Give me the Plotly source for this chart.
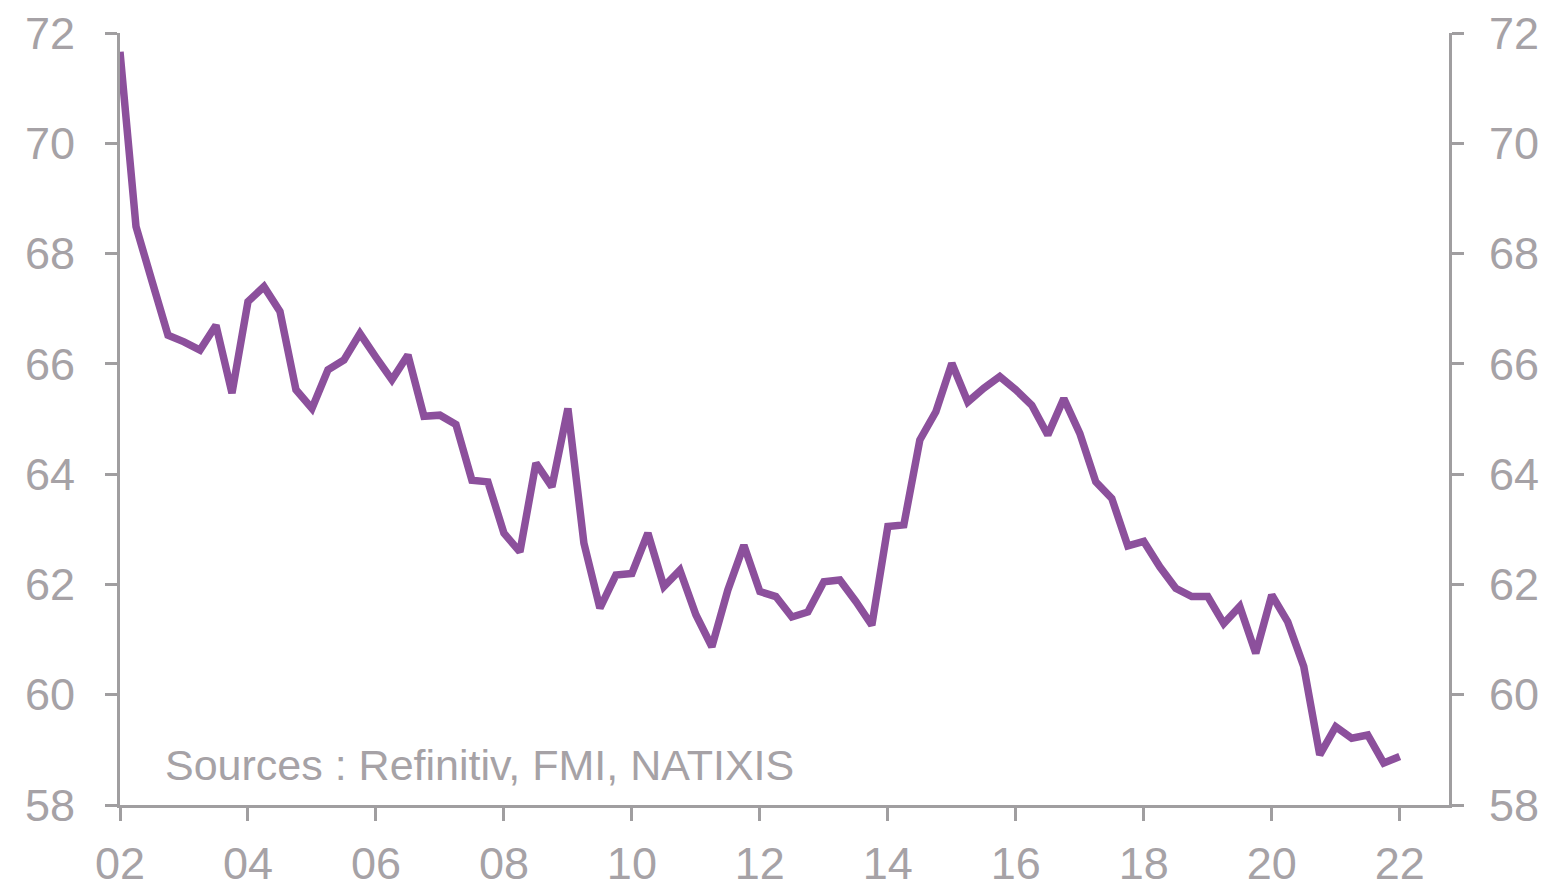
import plotly.graph_objects as go

start_year = 2002
values = [
    71.66, 68.49, 67.50, 66.52, 66.40, 66.25, 66.70, 65.47,
    67.13, 67.40, 66.95, 65.53, 65.19, 65.89, 66.07, 66.55,
    66.12, 65.71, 66.16, 65.05, 65.07, 64.90, 63.89, 63.86,
    62.93, 62.59, 64.20, 63.77, 65.19, 62.75, 61.57, 62.17,
    62.20, 62.93, 61.96, 62.26, 61.45, 60.87, 61.90, 62.71,
    61.87, 61.78, 61.41, 61.50, 62.05, 62.08, 61.69, 61.26,
    63.05, 63.08, 64.62, 65.13, 66.01, 65.31, 65.56, 65.77,
    65.53, 65.25, 64.71, 65.37, 64.74, 63.86, 63.56, 62.70,
    62.78, 62.32, 61.93, 61.78, 61.78, 61.29, 61.60, 60.75,
    61.81, 61.32, 60.51, 58.91, 59.42, 59.21, 59.27, 58.76,
    58.88,
]
x = [start_year + i / 4 for i in range(len(values))]

x_tickvals = list(range(2002, 2023, 2))
x_ticktext = ["02", "04", "06", "08", "10", "12", "14", "16", "18", "20", "22"]
y_tickvals = [58, 60, 62, 64, 66, 68, 70, 72]
source_text = "Sources : Refinitiv, FMI, NATIXIS"

axis_color = "#a09ea0"
label_color = "#a6a2a6"
font_family = "Arial, Liberation Sans, sans-serif"

fig = go.Figure()
fig.add_trace(go.Scatter(x=x, y=values, mode="lines",
                         line=dict(color="#8c509c", width=7.5),
                         showlegend=False))
fig.add_trace(go.Scatter(x=x, y=values, mode="lines", yaxis="y2",
                         line=dict(color="rgba(0,0,0,0)", width=0),
                         showlegend=False, hoverinfo="skip"))

fig.update_layout(
    width=1554, height=885,
    margin=dict(l=112, r=113, t=25, b=88, autoexpand=False),
    paper_bgcolor="white", plot_bgcolor="white",
    font=dict(family=font_family, color=label_color, size=45),
    xaxis=dict(range=[2002, 2022.77], tickvals=x_tickvals, ticktext=x_ticktext,
               showgrid=False, zeroline=False, showline=True, automargin=False,
               linecolor=axis_color, linewidth=3,
               ticks="outside", ticklen=13, tickwidth=3, tickcolor=axis_color,
               tickfont=dict(size=45, color=label_color),
               ticklabelstandoff=4, ticklabeloverflow="allow"),
    yaxis=dict(range=[58, 72], tickvals=y_tickvals, automargin=False,
               showgrid=False, zeroline=False, showline=True,
               linecolor=axis_color, linewidth=3,
               ticks="outside", ticklen=12, tickwidth=3, tickcolor=axis_color,
               tickfont=dict(size=45, color=label_color),
               ticklabelstandoff=21, ticklabeloverflow="allow"),
    yaxis2=dict(range=[58, 72], tickvals=y_tickvals, overlaying="y", side="right",
                automargin=False,
                showgrid=False, zeroline=False, showline=True,
                linecolor=axis_color, linewidth=3,
                ticks="outside", ticklen=12, tickwidth=3, tickcolor=axis_color,
                tickfont=dict(size=45, color=label_color),
                ticklabelstandoff=16, ticklabeloverflow="allow"),
    annotations=[dict(text=source_text, xref="paper", yref="paper",
                      x=0.0325, y=0.052, xanchor="left", yanchor="middle",
                      showarrow=False, font=dict(size=43, color=label_color))],
)

fig.write_html("out.html")
